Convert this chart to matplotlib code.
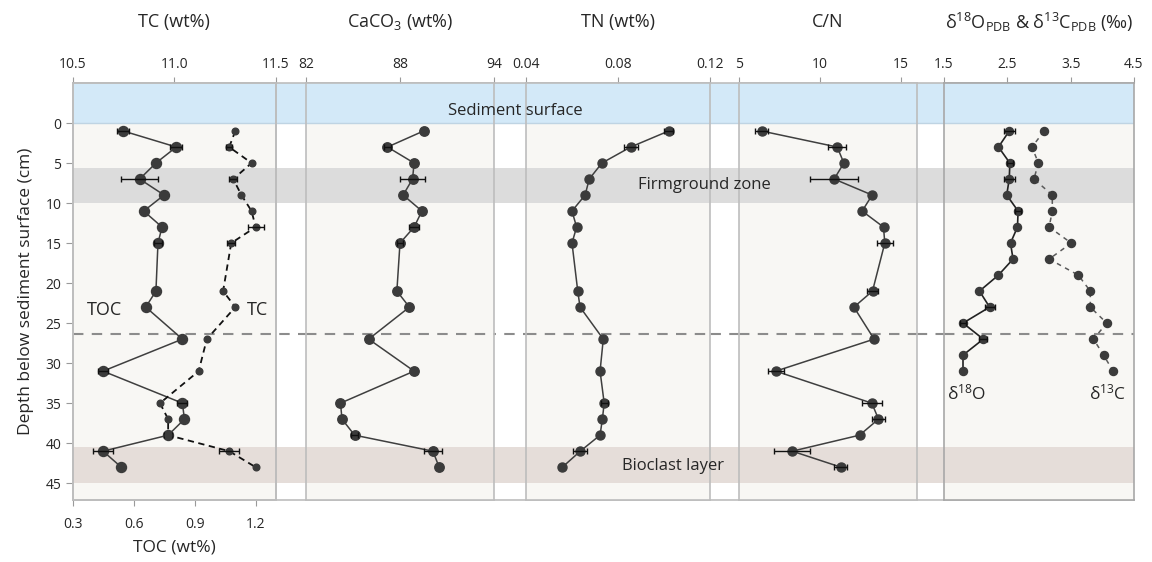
import numpy as np
import matplotlib.pyplot as plt

plt.rcParams['font.family'] = ['Open Sans', 'DejaVu Sans']
plt.rcParams['mathtext.fontset'] = 'custom'
plt.rcParams['mathtext.rm'] = 'Open Sans'
plt.rcParams['mathtext.it'] = 'Open Sans:italic'
plt.rcParams['mathtext.sf'] = 'Open Sans'

# ---- core data -------------------------------------------------------------
depth_bulk = [1, 3, 5, 7, 9, 11, 13, 15, 21, 23, 27, 31, 35, 37, 39, 41, 43]
depth_iso = [1, 3, 5, 7, 9, 11, 13, 15, 17, 19, 21, 23, 25, 27, 29, 31]

toc = [0.55, 0.81, 0.71, 0.63, 0.75, 0.65, 0.74, 0.72, 0.71, 0.66,
       0.84, 0.45, 0.84, 0.85, 0.77, 0.45, 0.54]
toc_err = [0.03, 0.03, 0, 0.09, 0, 0, 0, 0.02, 0, 0,
           0, 0.025, 0.025, 0, 0.02, 0.05, 0]
tc = [11.30, 11.27, 11.38, 11.29, 11.33, 11.38, 11.40, 11.28, 11.24, 11.30,
      11.16, 11.12, 10.93, 10.97, 10.97, 11.27, 11.40]
tc_err = [0, 0.015, 0, 0.02, 0, 0, 0.04, 0.02, 0, 0,
          0, 0, 0, 0, 0, 0.05, 0]
caco3 = [89.5, 87.2, 88.9, 88.8, 88.2, 89.4, 88.9, 88.0, 87.8, 88.6,
         86.0, 88.9, 84.2, 84.3, 85.1, 90.1, 90.5]
caco3_err = [0, 0.2, 0, 0.8, 0, 0, 0.3, 0.2, 0, 0,
             0, 0, 0, 0, 0.2, 0.6, 0]
tn = [0.102, 0.0855, 0.073, 0.0675, 0.0657, 0.060, 0.062, 0.060, 0.0625, 0.0635,
      0.0736, 0.0722, 0.074, 0.0732, 0.0722, 0.0636, 0.0558]
tn_err = [0.002, 0.003, 0, 0, 0, 0, 0, 0, 0, 0,
          0, 0, 0.0015, 0, 0, 0.003, 0]
cn = [6.40, 11.07, 11.48, 10.88, 13.23, 12.61, 13.93, 14.01, 13.25, 12.10,
      13.35, 7.27, 13.21, 13.62, 12.45, 8.29, 11.30]
cn_err = [0.4, 0.54, 0, 1.5, 0, 0, 0, 0.5, 0.37, 0,
          0, 0.49, 0.6, 0.4, 0, 1.1, 0.4]
d18o = [2.53, 2.36, 2.54, 2.53, 2.49, 2.67, 2.66, 2.55, 2.59, 2.36,
        2.06, 2.22, 1.80, 2.12, 1.80, 1.80]
d18o_err = [0.09, 0, 0.05, 0.09, 0, 0.05, 0, 0, 0, 0,
            0, 0.08, 0.05, 0.06, 0, 0]
d13c = [3.08, 2.89, 2.99, 2.92, 3.21, 3.21, 3.16, 3.51, 3.16, 3.62,
        3.81, 3.81, 4.07, 3.86, 4.02, 4.17]

# zones (depth, cm)
surface_zone = (-5, 0)
firmground_zone = (5.6, 10)
bioclast_zone = (40.5, 45)
boundary_depth = 26.4

# ---- styling ---------------------------------------------------------------
W, H = 1152, 562
Y_TOP, Y_BOT = 83, 500
DEPTH_MIN, DEPTH_MAX = -5, 47.1
PANEL_BG = '#f8f7f4'
BLUE = '#d3e9f8'
GREY = '#dcdcdc'
BROWN = '#e5ddd9'
EDGE = '#bdbdbd'
DOT = '#3b3b3b'
LINE = '#3f3f3f'
TXT = '#262626'

fig = plt.figure(figsize=(W / 100, H / 100), dpi=100)
fig.patch.set_facecolor('white')


def frame(x0, x1):
    return [x0 / W, (H - Y_BOT) / H, (x1 - x0) / W, (Y_BOT - Y_TOP) / H]


def depth_to_fig(d):
    return 1 - (Y_TOP + (d - DEPTH_MIN) / (DEPTH_MAX - DEPTH_MIN) * (Y_BOT - Y_TOP)) / H


def shade(ax):
    ax.axhspan(*surface_zone, color=BLUE, lw=0, zorder=0)
    ax.axhspan(*firmground_zone, color=GREY, lw=0, zorder=0)
    ax.axhspan(*bioclast_zone, color=BROWN, lw=0, zorder=0)
    ax.axhline(0, color='#bfd4e3', lw=1, zorder=0.5)
    ax.axhline(boundary_depth, color='#8c8c8c', lw=1.5, ls=(0, (5, 4)), zorder=1)


def panel(x0, x1, xlim, ticks, top=True):
    ax = fig.add_axes(frame(x0, x1))
    ax.set_facecolor(PANEL_BG)
    ax.set_xlim(*xlim)
    ax.set_ylim(DEPTH_MAX, DEPTH_MIN)
    for s in ax.spines.values():
        s.set_color(EDGE)
        s.set_linewidth(1.2)
    ax.set_xticks(ticks)
    ax.tick_params(axis='y', left=False, labelleft=False)
    ax.tick_params(axis='x', direction='out', length=4, color='#9a9a9a',
                   labelsize=10, labelcolor=TXT, pad=4)
    if top:
        ax.xaxis.tick_top()
    shade(ax)
    return ax


def profile(ax, x, y, err, ms, ls='-', lc=LINE, lw=1.1):
    x, y, err = np.asarray(x), np.asarray(y), np.asarray(err)
    ax.plot(x, y, ls=ls, color=lc, lw=lw, zorder=3)
    ax.plot(x, y, 'o', ms=ms, color=DOT, mec=DOT, zorder=4)
    m = err > 0
    ax.errorbar(x[m], y[m], xerr=err[m], fmt='none', ecolor='#111111',
                elinewidth=1, capsize=2.5, capthick=1, zorder=5)


# background strip behind all panels (gaps stay white)
bg = fig.add_axes(frame(72.5, 1134))
bg.set_facecolor('white')
bg.set_ylim(DEPTH_MAX, DEPTH_MIN)
bg.set_xticks([])
bg.set_yticks([])
for side in ['left', 'right']:
    bg.spines[side].set_visible(False)
for side in ['top', 'bottom']:
    bg.spines[side].set_color(EDGE)
    bg.spines[side].set_linewidth(1.2)
shade(bg)

# panel 1: TOC (bottom) and TC (top)
ax1 = panel(72.5, 276, (0.3, 1.3), [0.3, 0.6, 0.9, 1.2], top=False)
ax1.set_yticks(range(0, 50, 5))
ax1.tick_params(axis='y', left=True, labelleft=True, direction='out', length=5,
                color='#9a9a9a', labelsize=10, labelcolor=TXT, pad=3)
ax1.tick_params(axis='x', pad=8)
ax1.set_xticklabels(['0.3', '0.6', '0.9', '1.2'])
ax1.set_ylabel('Depth below sediment surface (cm)', fontsize=12.5, color=TXT, labelpad=8)
ax1.set_xlabel('TOC (wt%)', fontsize=12.5, color=TXT, labelpad=6)
profile(ax1, toc, depth_bulk, toc_err, ms=7.2)
ax1.text(0.455, 23.3, 'TOC', ha='center', va='center', fontsize=13, color=TXT)
ax1.text(1.211, 23.3, 'TC', ha='center', va='center', fontsize=13, color=TXT)

ax1t = ax1.twiny()
ax1t.set_facecolor('none')
ax1t.set_xlim(10.5, 11.5)
ax1t.set_xticks([10.5, 11.0, 11.5])
ax1t.set_xticklabels(['10.5', '11.0', '11.5'])
ax1t.tick_params(axis='x', direction='out', length=4, color='#9a9a9a',
                 labelsize=10, labelcolor=TXT, pad=4)
for s in ax1t.spines.values():
    s.set_color(EDGE)
    s.set_linewidth(1.2)
profile(ax1t, tc, depth_bulk, tc_err, ms=4.8, ls=(0, (3.5, 2.5)), lc='#111111', lw=1.3)

# panel 2: CaCO3
ax2 = panel(306, 494, (82, 94), [82, 88, 94])
profile(ax2, caco3, depth_bulk, caco3_err, ms=6.8)

# panel 3: TN
ax3 = panel(526, 710, (0.04, 0.12), [0.04, 0.08, 0.12])
ax3.set_xticklabels(['0.04', '0.08', '0.12'])
profile(ax3, tn, depth_bulk, tn_err, ms=6.5)

# panel 4: C/N
ax4 = panel(739, 917, (5, 16), [5, 10, 15])
profile(ax4, cn, depth_bulk, cn_err, ms=6.5)

# panel 5: stable isotopes
ax5 = panel(944, 1134, (1.5, 4.5), [1.5, 2.5, 3.5, 4.5])
for s in ax5.spines.values():
    s.set_color('#a8a8a8')
profile(ax5, d18o, depth_iso, d18o_err, ms=5.8, lc='#222222', lw=1.2)
profile(ax5, d13c, depth_iso, np.zeros(len(d13c)), ms=5.8,
        ls=(0, (3, 3)), lc='#5a5a5a', lw=1.1)
ax5.text(1.86, 33.8, r'δ$^{18}$O', ha='center', va='center', fontsize=12.5, color=TXT)
ax5.text(4.09, 33.8, r'δ$^{13}$C', ha='center', va='center', fontsize=12.5, color=TXT)

# zone labels sit above every panel
for x_px, d, label in [(448, -1.5, 'Sediment surface'),
                       (638, 7.7, 'Firmground zone'),
                       (622, 42.8, 'Bioclast layer')]:
    fig.text(x_px / W, depth_to_fig(d), label, ha='left', va='center',
             fontsize=12, color=TXT, zorder=10)

# column titles
ty = 1 - 22 / H
for x0, x1, label in [(72.5, 276, 'TC (wt%)'),
                      (306, 494, r'CaCO$_3$ (wt%)'),
                      (526, 710, 'TN (wt%)'),
                      (739, 917, 'C/N'),
                      (944, 1134, r'δ$^{18}$O$_{\mathrm{PDB}}$ & δ$^{13}$C$_{\mathrm{PDB}}$ (‰)')]:
    fig.text((x0 + x1) / 2 / W, ty, label, ha='center', va='center',
             fontsize=13, color=TXT)

fig.savefig('out.png', dpi=100)
